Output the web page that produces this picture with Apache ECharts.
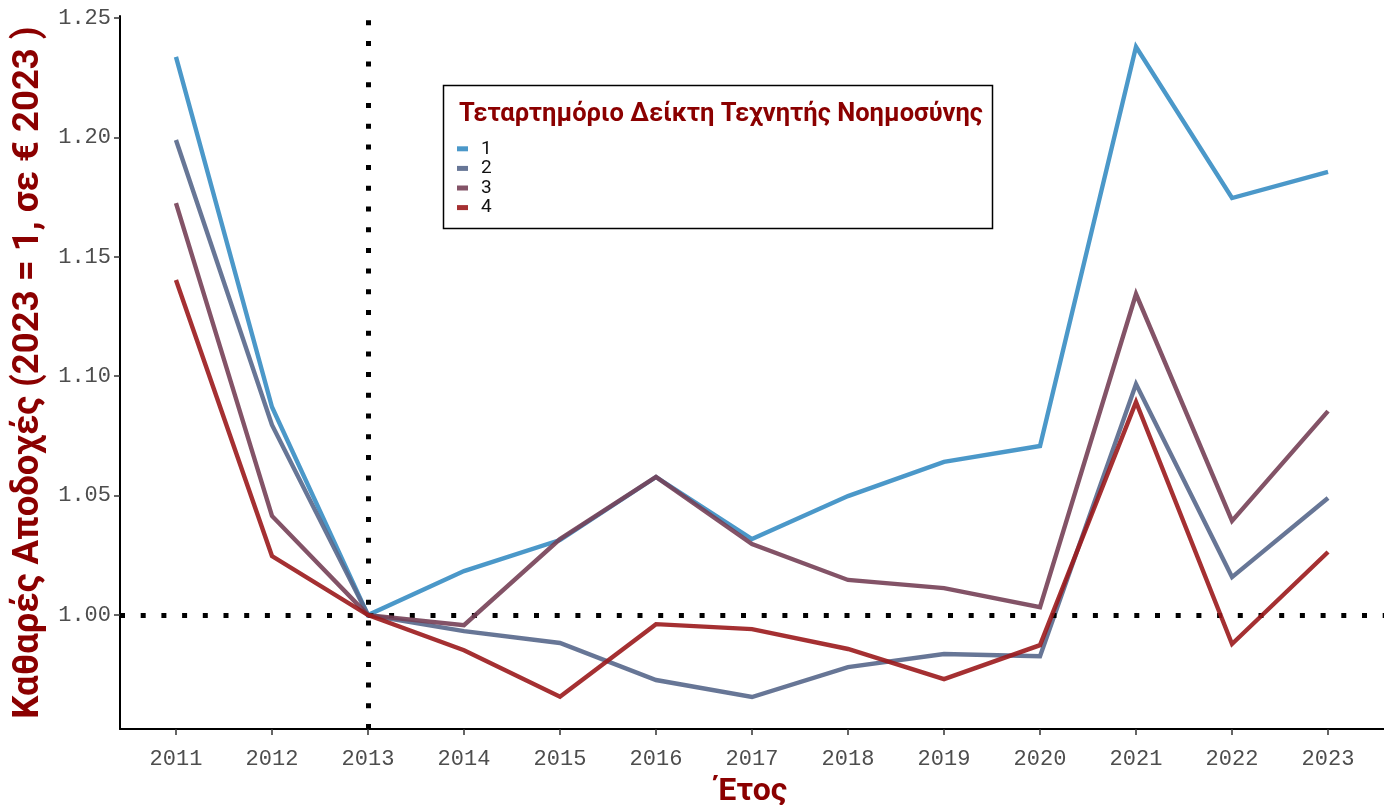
<!DOCTYPE html>
<html><head><meta charset="utf-8">
<script src="https://cdn.jsdelivr.net/npm/echarts@6/dist/echarts.min.js"></script>
<style>html,body{margin:0;padding:0;background:#fff}#c{width:1384px;height:805px}</style>
</head><body><div id="c"></div>
<script>
const years = [2011,2012,2013,2014,2015,2016,2017,2018,2019,2020,2021,2022,2023];
const seriesNames = ['1','2','3','4'];
const q1 = [1.2337,1.0871,1.0000,1.0184,1.0314,1.0578,1.0318,1.0498,1.0641,1.0708,1.2379,1.1746,1.1855];
const q2 = [1.1989,1.0796,1.0000,0.9933,0.9883,0.9728,0.9657,0.9782,0.9837,0.9828,1.0967,1.0159,1.0490];
const q3 = [1.1725,1.0415,1.0000,0.9958,1.0318,1.0578,1.0297,1.0147,1.0113,1.0033,1.1344,1.0394,1.0854];
const q4 = [1.1403,1.0247,1.0000,0.9853,0.9658,0.9962,0.9941,0.9858,0.9732,0.9874,1.0892,0.9879,1.0264];
const yTicks = [1.00,1.05,1.10,1.15,1.20,1.25];
const colors = ['rgba(60,143,196,0.92)','rgba(90,106,141,0.92)','rgba(118,64,86,0.9)','rgba(155,25,28,0.9)'];
const values = [q1,q2,q3,q4];
const darkRed = '#8B0000';

const chart = echarts.init(document.getElementById('c'), null, {renderer:'canvas'});
const series = values.map((v,i)=>({
  name: seriesNames[i], type:'line', data: v.map((y,j)=>[years[j],y]),
  symbol:'none', lineStyle:{width:4.4, color:colors[i], cap:'butt', join:'miter'},
  itemStyle:{color:colors[i]}, z: 3+i
}));
series[0].markLine = {
  silent:true, symbol:['none','none'], label:{show:false},
  lineStyle:{color:'#000', width:5, type:[5,15.7], cap:'butt'},
  data:[{xAxis:2013},{yAxis:1}]
};

chart.setOption({
  animation:false,
  grid:{left:120, right:0, top:16, bottom:76, containLabel:false, outerBoundsMode:'none'},
  title:{text:'Τεταρτημόριο Δείκτη Τεχνητής Νοημοσύνης', left:459, top:102, padding:0,
    textStyle:{color:darkRed, fontFamily:'Roboto', fontWeight:'bold', fontSize:25.5}},
  legend:{data:seriesNames, orient:'vertical', left:457, top:139, itemGap:0, padding:0,
    itemWidth:11, itemHeight:5, icon:'rect',
    textStyle:{color:'#111', fontFamily:'Roboto', fontSize:19, lineHeight:19.6, padding:[0,0,0,8]}},
  graphic:[{type:'rect', shape:{x:443.5,y:85.5,width:549,height:143},
    style:{fill:'none', stroke:'#000', lineWidth:1.5}, z:0}],
  xAxis:{type:'value', min:2010.417, max:2023.583,
    name:'Έτος', nameLocation:'middle', nameGap:47,
    nameTextStyle:{color:darkRed, fontFamily:'Roboto', fontWeight:'bold', fontSize:32},
    axisLine:{show:true, onZero:false, lineStyle:{color:'#000', width:2}},
    axisTick:{show:true, length:6, customValues:years, lineStyle:{color:'#333', width:1.5}},
    axisLabel:{customValues:years, formatter:v=>String(v), color:'#4d4d4d',
      fontFamily:'Liberation Mono', fontSize:22, margin:19},
    splitLine:{show:false}},
  yAxis:{type:'value', min:0.9523, max:1.2508,
    name:'Καθαρές Αποδοχές (2023 = 1, σε € 2023 )', nameLocation:'middle', nameGap:73,
    nameTextStyle:{color:darkRed, fontFamily:'Roboto', fontWeight:'bold', fontSize:36.5}},
  series: series
});
chart.setOption({yAxis:{
    axisLine:{show:true, onZero:false, lineStyle:{color:'#000', width:2}},
    axisTick:{show:true, length:6, customValues:yTicks, lineStyle:{color:'#333', width:1.5}},
    axisLabel:{customValues:yTicks, formatter:v=>v.toFixed(2), color:'#4d4d4d',
      fontFamily:'Liberation Mono', fontSize:22, margin:9},
    splitLine:{show:false}}});
</script></body></html>
